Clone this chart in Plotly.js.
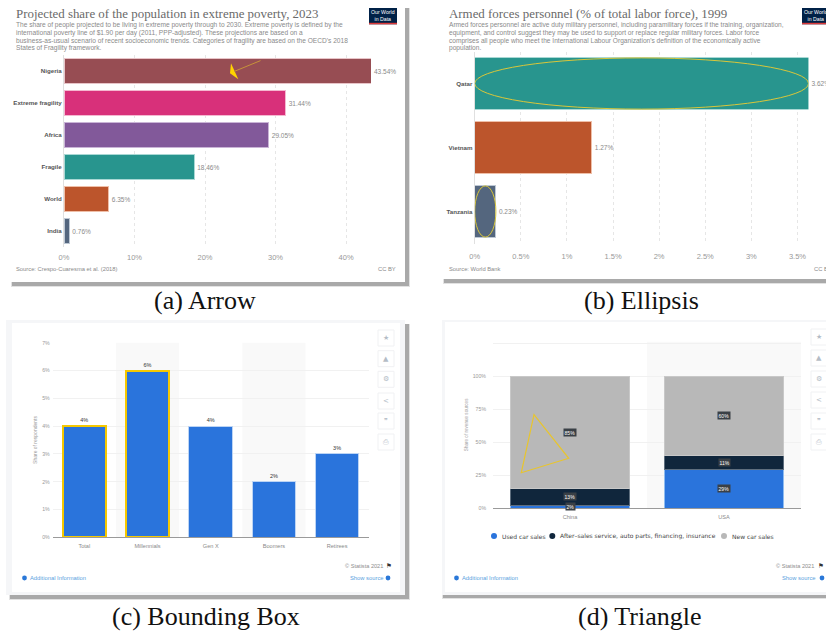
<!DOCTYPE html>
<html>
<head>
<meta charset="utf-8">
<script src="https://cdn.plot.ly/plotly-3.0.1.min.js"></script>
<style>html,body{margin:0;padding:0;background:#fff;overflow:hidden}#chart{width:826px;height:632px}</style>
</head>
<body>
<div id="chart"></div>
<script>
// ---- data ----
const povertyCategories = ['Nigeria','Extreme fragility','Africa','Fragile','World','India'];
const povertyValues = [43.54,31.44,29.05,18.46,6.35,0.76];
const povertyColors = ['#974D53','#D8307A','#82599A','#28958E','#BC552C','#54667E'];
const povertyLines = ['#E8C4C8','#F4B8D0','#C9B4D6','#A9D8D4','#EFBFA8','#BEC8D4'];
const povertyTicks = [0,10,20,30,40];

const armedCategories = ['Qatar','Vietnam','Tanzania'];
const armedValues = [3.62,1.27,0.23];
const armedColors = ['#28958E','#BC552C','#54667E'];
const armedLines = ['#A9D8D4','#EFBFA8','#BEC8D4'];
const armedTicks = [0,0.5,1,1.5,2,2.5,3,3.5];

const genCategories = ['Total','Millennials','Gen X','Boomers','Retirees'];
const genValues = [4,6,4,2,3];
const genTicks = [0,1,2,3,4,5,6,7];

const carCategories = ['China','USA'];
const carUsed = [2,29];
const carAfter = [13,11];
const carNew = [85,60];
const carSeriesNames = ['Used car sales','After\u2013sales service, auto parts, financing, insurance','New car sales'];
const carTicks = [0,25,50,75,100,125];
const carTickLabels = ['0%','25%','50%','75%','100%',''];
const pct = v => v + '%';

// ---- helpers (pixel -> paper) ----
const W = 826, H = 632;
const fx = p => p / W;
const fy = p => 1 - p / H;
const sans = 'Liberation Sans, Arial, sans-serif';
const serif = 'Liberation Serif, Times New Roman, serif';
const dv = 'DejaVu Sans, sans-serif';
const shapes = [], ann = [];

function rect(x0,y0,x1,y1,fill,layer){
  shapes.push({type:'rect',xref:'paper',yref:'paper',x0:fx(x0),x1:fx(x1),y0:fy(y0),y1:fy(y1),
    fillcolor:fill,line:{width:0},layer:layer||'below'});
}
function label(x,y,text,size,color,opts){
  ann.push(Object.assign({xref:'paper',yref:'paper',x:fx(x),y:fy(y),text:text,showarrow:false,
    xanchor:'left',yanchor:'middle',align:'left',borderpad:0,
    font:{family:sans,size:size,color:color}},opts||{}));
}
function dot(x,y,r,color,layer){
  shapes.push({type:'circle',xref:'paper',yref:'paper',x0:fx(x-r),x1:fx(x+r),y0:fy(y-r),y1:fy(y+r),
    fillcolor:color,line:{width:0},layer:layer||'above'});
}
function card(x0,y0,x1,y1,dx,dy){
  rect(x0+dx-1,y0+dy,x1+dx+1,y1+dy+1,'#e2e2e2');
  rect(x0+dx,y0+dy,x1+dx,y1+dy,'#a9a9a9');
}

// ---- cards and shadows ----
card(8,4,405,282,4,4);
rect(8,4,405,282,'#ffffff');
card(443,4,840,279,1,4);
rect(443,4,840,279,'#ffffff');
card(6,320,405,595,4,4);
rect(6,320,405,595,'#f5f6f8');
rect(12,323,400,592,'#ffffff');
card(442,320,840,595,1,3);
rect(442,320,840,595,'#f5f6f8');
rect(445,322,840,592,'#ffffff');

// ---- OWID headers ----
function owidHeader(x,title,lines,logoX,logoW){
  label(x,13.5,title,12.9,'#6a6a6a',{font:{family:serif,size:12.9,color:'#6a6a6a'}});
  const ys=[25,33,40.5,48.2];
  lines.forEach((t,i)=>label(x,ys[i],t,6.6,'#8a8a8a'));
  rect(logoX,8,logoX+logoW,24.3,'#002147','above');
  rect(logoX,22.8,logoX+logoW,24.3,'#dc3a3a','above');
  label(logoX+14,15,'Our World<br>in Data',5.2,'#ffffff',{xanchor:'center',align:'center'});
}
owidHeader(15,'Projected share of the population in extreme poverty, 2023',[
  'The share of people projected to be living in extreme poverty through to 2030. Extreme poverty is defined by the',
  'international poverty line of $1.90 per day (2011, PPP-adjusted). These projections are based on a',
  "business-as-usual scenario of recent socioeconomic trends. Categories of fragility are based on the OECD's 2018",
  'States of Fragility framework.'],369,28);
owidHeader(448,'Armed forces personnel (% of total labor force), 1999',[
  'Armed forces personnel are active duty military personnel, including paramilitary forces if the training, organization,',
  'equipment, and control suggest they may be used to support or replace regular military forces. Labor force',
  "comprises all people who meet the International Labour Organization's definition of the economically active",
  'population.'],802,28);
label(15,269,'Source: Crespo-Cuaresma et al. (2018)',5.8,'#8a8a8a');
label(397,269,'CC BY',5.8,'#8a8a8a',{xanchor:'right'});
label(448,269,'Source: World Bank',5.8,'#8a8a8a');
label(813,269,'CC BY',5.8,'#8a8a8a');

// ---- Statista footers ----
function statista(rightText,flagX,addDotX,showRight,showDotX){
  label(rightText,566,'\u00A9 Statista 2021',5.6,'#8d8d8d',{xanchor:'right'});
  label(flagX,566,'\u2691',6.5,'#333333',{xanchor:'center',font:{family:dv,size:6.5,color:'#333333'}});
  dot(addDotX,578,2.4,'#2a78d8');
  label(addDotX+4,578,'Additional Information',5.8,'#5a9fe0');
  label(showRight,578,'Show source',5.8,'#5a9fe0',{xanchor:'right'});
  dot(showDotX,578,2.4,'#2a78d8');
}
statista(384,389,24.5,385,388);
statista(815,821,456.5,817,822);

function toolbar(cx,ys){
  const glyphs=['\u2605','\u25B2','\u2699','<','\u275E','\u2399'];
  ys.forEach((y,i)=>{
    rect(cx-8,y-8,cx+8,y+8,'#ffffff','above');
    shapes.push({type:'rect',xref:'paper',yref:'paper',x0:fx(cx-8),x1:fx(cx+8),y0:fy(y-8),y1:fy(y+8),
      fillcolor:'rgba(0,0,0,0)',line:{color:'#f0f1f3',width:1},layer:'above'});
    label(cx,y,glyphs[i],7,'#b4bcc6',{xanchor:'center',font:{family:dv,size:7,color:'#b4bcc6'}});
  });
}
toolbar(386,[338,358.7,379.3,401,421,442]);
toolbar(819,[337,358,379,400,421,442]);

// ---- shaded columns ----
const bandFill = '#f9f9f9';
[[0.5,1.5],[2.5,3.5]].forEach(b=>shapes.push({type:'rect',xref:'x3',yref:'y3 domain',x0:b[0],x1:b[1],y0:0,y1:1,
  fillcolor:bandFill,line:{width:0},layer:'below'}));
shapes.push({type:'rect',xref:'x4',yref:'y4 domain',x0:0.5,x1:1.5,y0:0,y1:1,fillcolor:bandFill,line:{width:0},layer:'below'});

// ---- annotated marks ----
ann.push({xref:'paper',yref:'paper',x:fx(234),y:fy(71.5),ax:28,ay:-11.5,axref:'pixel',ayref:'pixel',text:'',
  showarrow:true,arrowhead:0,arrowwidth:1,arrowcolor:'#C8923A'});
shapes.push({type:'path',xref:'paper',yref:'paper',layer:'above',fillcolor:'#FFD400',line:{width:0},
  path:`M ${fx(231)} ${fy(63.3)} L ${fx(238.3)} ${fy(79.3)} L ${fx(230)} ${fy(73.3)} Z`});
[[0,3.62,-0.4,0.4],[0,0.23,1.6,2.4]].forEach(e=>shapes.push({type:'circle',xref:'x2',yref:'y2',
  x0:e[0],x1:e[1],y0:e[2],y1:e[3],line:{color:'#D9C63A',width:1},fillcolor:'rgba(0,0,0,0)',layer:'above'}));
shapes.push({type:'path',xref:'paper',yref:'paper',layer:'above',line:{color:'#E8C52E',width:1.2},
  path:`M ${fx(534)} ${fy(414.7)} L ${fx(568.7)} ${fy(458.3)} L ${fx(521.3)} ${fy(472.7)} Z`});

// ---- stacked value pills ----
function pills(base,vals){
  carCategories.forEach((c,i)=>{
    ann.push({xref:'x4',yref:'y4',x:c,y:base[i]+vals[i]/2,text:pct(vals[i]),showarrow:false,
      bgcolor:'#3a4046',borderpad:0.6,font:{family:sans,size:5,color:'#ffffff'}});
  });
}
pills([0,0],carUsed);
pills(carUsed,carAfter);
pills(carUsed.map((v,i)=>v+carAfter[i]),carNew);

// ---- legend (d) ----
[[494,500.7,'#2a74dc'],[552.3,559,'#10263c'],[724,730.7,'#b8b8b8']].forEach((l,i)=>{
  dot(l[0],536,3,l[2]);
  label(l[1],536,carSeriesNames[i],6,'#444444',{font:{family:dv,size:6,color:'#444444'}});
});

// ---- captions ----
[[205,300,'(a) Arrow'],[641,300,'(b) Ellipsis'],[206,616,'(c) Bounding Box'],[640,616,'(d) Triangle']].forEach(c=>
  label(c[0],c[1],c[2],26,'#111111',{xanchor:'center',font:{family:serif,size:26,color:'#111111'}}));

// ---- traces ----
function hbar(cats,vals,colors,lines,xa,ya){
  return {type:'bar',orientation:'h',y:cats,x:vals,xaxis:xa,yaxis:ya,width:0.8,
    marker:{color:colors,line:{color:lines,width:1}},
    text:vals.map(v=>v.toFixed(2)+'%'),textposition:'outside',cliponaxis:false,constraintext:'none',
    textfont:{family:sans,size:6.5,color:'#8a8a8a'},showlegend:false,hoverinfo:'skip'};
}
function stack(vals,color,line,name){
  return {type:'bar',x:carCategories,y:vals,name:name,xaxis:'x4',yaxis:'y4',width:0.77,
    marker:{color:color,line:{color:line,width:1}},showlegend:false,hoverinfo:'skip'};
}
const traces=[
  hbar(povertyCategories,povertyValues,povertyColors,povertyLines,'x','y'),
  hbar(armedCategories,armedValues,armedColors,armedLines,'x2','y2'),
  {type:'bar',x:genCategories,y:genValues,xaxis:'x3',yaxis:'y3',width:0.69,
   marker:{color:'#2A74DC',line:{color:['#F5C800','#F5C800','#BCD4F4','#BCD4F4','#BCD4F4'],width:[2,2,1,1,1]}},
   text:genValues.map(pct),textposition:'outside',cliponaxis:false,constraintext:'none',
   textfont:{family:sans,size:5.5,color:'#333333'},showlegend:false,hoverinfo:'skip'},
  stack(carUsed,'#2A74DC','#8FBCF0',carSeriesNames[0]),
  stack(carAfter,'#10263C','#5E6E7E',carSeriesNames[1]),
  stack(carNew,'#B8B8B8','#C8C8C8',carSeriesNames[2])
];

// ---- axes ----
const owidX={showline:false,zeroline:false,ticks:'',showgrid:true,griddash:'dot',gridcolor:'#e6e6e6',gridwidth:1,
  tickfont:{family:sans,size:7.5,color:'#999999'},fixedrange:true};
const owidY={showline:true,linecolor:'#e0e0e0',linewidth:1,ticks:'',showgrid:false,zeroline:false,type:'category',
  tickfont:{family:sans,size:6.2,color:'#555555',weight:700},fixedrange:true};
const stGrid={zeroline:false,showgrid:true,gridcolor:'#f1f1f1',gridwidth:1,ticks:'',showline:false,
  tickfont:{family:sans,size:5.2,color:'#9a9a9a'},fixedrange:true};
const stX={type:'category',showgrid:false,zeroline:false,ticks:'',showline:true,linecolor:'#9a9a9a',linewidth:1,
  tickfont:{family:sans,size:5.6,color:'#8a8a8a'},fixedrange:true};

const layout={
  width:W,height:H,autosize:false,margin:{l:0,r:0,t:0,b:0},paper_bgcolor:'#ffffff',plot_bgcolor:'rgba(0,0,0,0)',
  showlegend:false,barmode:'stack',
  xaxis:Object.assign({},owidX,{domain:[fx(64),fx(371)],range:[0,43.54],anchor:'y',tickvals:povertyTicks,ticktext:povertyTicks.map(pct),ticklabelstandoff:4}),
  yaxis:Object.assign({},owidY,{domain:[fy(247),fy(55)],range:[5.5,-0.5],anchor:'x'}),
  xaxis2:Object.assign({},owidX,{domain:[fx(474.7),fx(808.5)],range:[0,3.62],anchor:'y2',tickvals:armedTicks,ticktext:armedTicks.map(pct),ticklabelstandoff:7}),
  yaxis2:Object.assign({},owidY,{domain:[fy(243.5),fy(51.5)],range:[2.5,-0.5],anchor:'x2'}),
  xaxis3:Object.assign({},stX,{domain:[fx(52.7),fx(368.7)],range:[-0.5,4.5],anchor:'y3',ticklabelstandoff:3}),
  yaxis3:Object.assign({},stGrid,{domain:[fy(537.3),fy(342.7)],range:[0,7],anchor:'x3',tickvals:genTicks,ticktext:genTicks.map(pct),
    ticklabelstandoff:2,title:{text:'Share of respondents',standoff:4,font:{family:sans,size:5,color:'#9a9a9a'}}}),
  xaxis4:Object.assign({},stX,{domain:[fx(493),fx(801)],range:[-0.5,1.5],anchor:'y4',ticklabelstandoff:3}),
  yaxis4:Object.assign({},stGrid,{domain:[fy(508),fy(341.7)],range:[0,126],anchor:'x4',tickvals:carTicks,ticktext:carTickLabels,
    ticklabelstandoff:6,title:{text:'Share of revenue sources',standoff:4,font:{family:sans,size:4.6,color:'#9a9a9a'}}}),
  shapes:shapes,annotations:ann
};
Plotly.newPlot('chart',traces,layout,{displayModeBar:false,responsive:false});
</script>
</body>
</html>
